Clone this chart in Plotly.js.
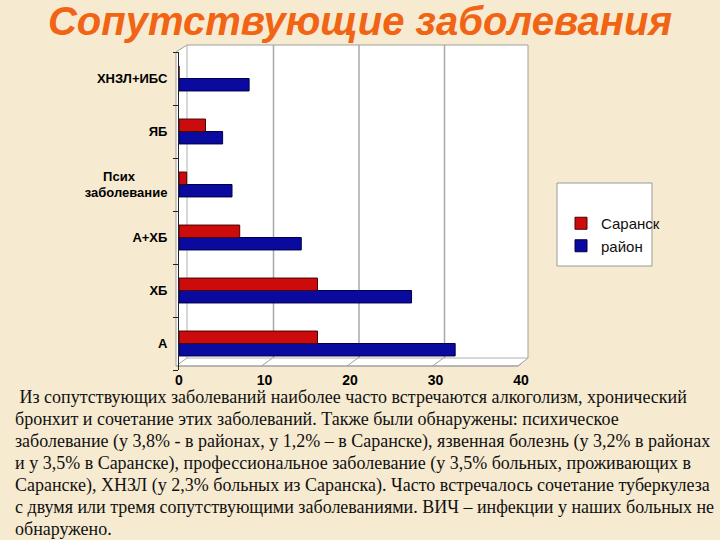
<!DOCTYPE html>
<html>
<head>
<meta charset="utf-8">
<script src="https://cdn.plot.ly/plotly-3.0.1.min.js"></script>
<style>
html,body{margin:0;padding:0;background:#F6EAD0;}
#chart{width:720px;height:540px;}
</style>
</head>
<body>
<div id="chart"></div>
<script>
// ---- data ----
const categories = ['А', 'ХБ', 'А+ХБ', 'Псих заболевание', 'ЯБ', 'ХНЗЛ+ИБС'];
const categoryLabels = ['А', 'ХБ', 'А+ХБ', 'Псих\u00a0\u00a0\u00a0\u00a0\u00a0\u00a0\u00a0\u00a0\u00a0<br>заболевание', 'ЯБ', 'ХНЗЛ+ИБС'];
const seriesNames = ['Саранск', 'район'];
const saranskValues = [16.2, 16.2, 7.1, 0.9, 3.1, 0];
const rayonValues = [32.3, 27.2, 14.3, 6.2, 5.1, 8.2];
const xTickValues = [0, 10, 20, 30, 40];
const titleText = 'Сопутствующие заболевания';
const paragraphLines = [
  '\u00a0Из сопутствующих заболеваний наиболее часто встречаются алкоголизм, хронический',
  'бронхит и сочетание этих заболеваний. Также были обнаружены: психическое',
  'заболевание (у 3,8% - в районах, у 1,2% – в Саранске), язвенная болезнь (у 3,2% в районах',
  'и у 3,5% в Саранске), профессиональное заболевание (у 3,5% больных, проживающих в',
  'Саранске), ХНЗЛ (у 2,3% больных из Саранска). Часто встречалось сочетание туберкулеза',
  'с двумя или тремя сопутствующими заболеваниями. ВИЧ – инфекции у наших больных не',
  'обнаружено.'
];

// ---- layout geometry (pixels) ----
const W = 720, H = 540;
const L = 179, R = 521, T = 52, B = 370;
const px = x => (x - L) / (R - L);
const py = y => (B - y) / (B - T);

const traces = [
  {
    type: 'bar', orientation: 'h', name: seriesNames[1],
    y: categories, x: rayonValues,
    marker: {color: '#0A0A9E', line: {color: '#00004A', width: 1}},
    legendrank: 2, hoverinfo: 'x+y'
  },
  {
    type: 'bar', orientation: 'h', name: seriesNames[0],
    y: categories, x: saranskValues,
    marker: {color: '#CC0C0C', line: {color: '#4A0000', width: 1}},
    legendrank: 1, hoverinfo: 'x+y'
  }
];

const shapes = [];
// 3D box background
shapes.push({
  type: 'path', xref: 'paper', yref: 'paper', layer: 'below',
  path: `M${px(176)},${py(52)} L${px(187)},${py(45)} L${px(528)},${py(45)} L${px(528)},${py(358)} L${px(518)},${py(366)} L${px(176)},${py(366)} Z`,
  fillcolor: '#FFFFFF', line: {color: '#A0A0A0', width: 1}
});
// back wall edges
shapes.push({type: 'line', xref: 'paper', yref: 'paper', layer: 'below',
  x0: px(187), x1: px(187), y0: py(45), y1: py(358), line: {color: '#B0B0B0', width: 1}});
shapes.push({type: 'line', xref: 'paper', yref: 'paper', layer: 'below',
  x0: px(187), x1: px(528), y0: py(358), y1: py(358), line: {color: '#B0B0B0', width: 1}});
// gridlines on the back wall + floor diagonals, anchored to axis values
xTickValues.forEach(v => {
  if (v > 0 && v < 40) {
    shapes.push({type: 'line', xref: 'x', yref: 'paper', layer: 'below',
      xsizemode: 'pixel', xanchor: v, x0: 9, x1: 9, y0: py(45), y1: py(358),
      line: {color: '#A8A8A8', width: 1.5}});
  }
  shapes.push({type: 'line', xref: 'x', yref: 'paper', layer: 'below',
    xsizemode: 'pixel', xanchor: v, x0: -3, x1: 8, y0: py(366), y1: py(358),
    line: {color: '#A0A0A0', width: 1}});
});
// front floor edge
shapes.push({type: 'line', xref: 'paper', yref: 'paper', layer: 'below',
  x0: px(176), x1: px(518), y0: py(366), y1: py(366), line: {color: '#A0A0A0', width: 1}});
// legend box
shapes.push({type: 'rect', xref: 'paper', yref: 'paper', layer: 'below',
  x0: px(557), x1: px(652), y0: py(183), y1: py(266),
  fillcolor: '#FFFFFF', line: {color: '#9A9A9A', width: 1}});

const annotations = paragraphLines.map((t, i) => ({
  text: t, xref: 'paper', yref: 'paper', showarrow: false,
  x: px(13), y: py(397 + i * 22), xanchor: 'left', yanchor: 'middle',
  font: {family: '"Liberation Serif", "Times New Roman", serif', size: 18, color: '#111111'}
}));

const layout = {
  width: W, height: H,
  paper_bgcolor: '#F6EAD0', plot_bgcolor: 'rgba(0,0,0,0)',
  margin: {l: L, r: W - R, t: T, b: H - B, pad: 0},
  title: {
    text: '<b><i>' + titleText + '</i></b>',
    x: 0.5, xref: 'container', xanchor: 'center',
    y: 1 - 21 / H, yref: 'container', yanchor: 'middle',
    font: {family: 'Arial, "Liberation Sans", sans-serif', size: 40, color: '#F06414'}
  },
  barmode: 'group', bargap: 0.53, bargroupgap: 0,
  xaxis: {
    range: [0, 40], tickvals: xTickValues, ticktext: xTickValues.map(v => '<b>' + v + '</b>'),
    showgrid: false, zeroline: false, showline: false, ticks: '',
    tickfont: {family: 'Arial, "Liberation Sans", sans-serif', size: 14, color: '#000000'}
  },
  yaxis: {
    type: 'category', categoryorder: 'array', categoryarray: categories,
    tickvals: categories, ticktext: categoryLabels,
    showgrid: false, zeroline: false, showline: true, linecolor: '#222222', linewidth: 1,
    ticks: 'outside', ticklen: 5, tickcolor: '#222222', tickson: 'boundaries',
    ticklabelstandoff: 8,
    tickfont: {family: 'Arial, "Liberation Sans", sans-serif', size: 13, color: '#000000', weight: 'bold'}
  },
  showlegend: true,
  legend: {
    x: px(561), y: py(207), xanchor: 'left', yanchor: 'top',
    bgcolor: 'rgba(0,0,0,0)', borderwidth: 0,
    font: {family: 'Arial, "Liberation Sans", sans-serif', size: 15, color: '#111111'},
    itemwidth: 30, tracegroupgap: 4
  },
  shapes: shapes,
  annotations: annotations
};

Plotly.newPlot('chart', traces, layout, {displayModeBar: false, staticPlot: true});
</script>
</body>
</html>
